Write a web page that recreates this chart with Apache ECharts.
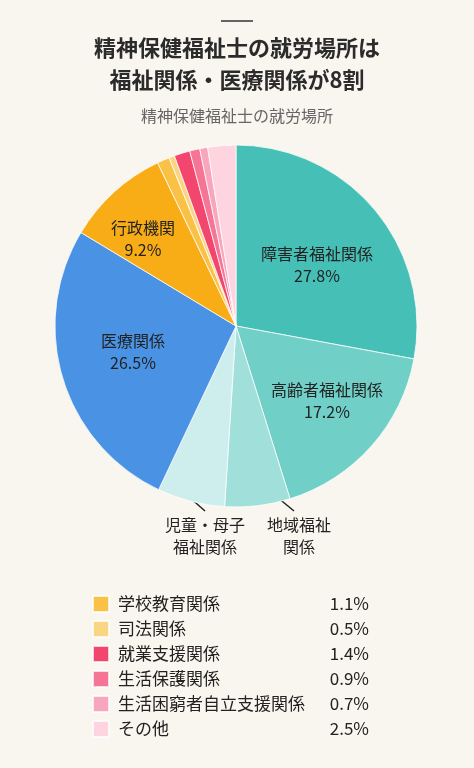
<!DOCTYPE html>
<html>
<head>
<meta charset="utf-8">
<script src="https://cdn.jsdelivr.net/npm/echarts@6/dist/echarts.min.js"></script>
<style>
  html, body { margin: 0; padding: 0; background: #f9f6ef; }
  #main { width: 474px; height: 768px; }
</style>
</head>
<body>
<div id="main"></div>
<script>
// 就労場所の内訳（%）
var categories = ['障害者福祉関係', '高齢者福祉関係', '地域福祉関係', '児童・母子福祉関係', '医療関係', '行政機関',
    '学校教育関係', '司法関係', '就業支援関係', '生活保護関係', '生活困窮者自立支援関係', 'その他'];
var values = [27.8, 17.2, 5.8, 6.0, 26.5, 9.2, 1.1, 0.5, 1.4, 0.9, 0.7, 2.5];
var pctLabels = ['27.8%', '17.2%', '', '', '26.5%', '9.2%', '1.1%', '0.5%', '1.4%', '0.9%', '0.7%', '2.5%'];
var sliceLabels = ['障害者福祉関係', '高齢者福祉関係', '地域福祉\n関係', '児童・母子\n福祉関係', '医療関係', '行政機関'];
var legendNames = categories.slice(6);

var colors = ['#46bfb7', '#70d0c8', '#a0dfda', '#cdeeec', '#4a92e4', '#f8ac16',
    '#f9c247', '#fbd682', '#f2466e', '#f57597', '#f8a6bd', '#fdd4df'];

var cx = 236, cy = 326, r = 181;
var fontCJK = '"Noto Sans CJK JP", "Noto Sans", sans-serif';

// ラベル位置（円の中心からのずれ）
var labelSpots = {
    0: [81, -61],
    1: [91, 75],
    2: [63, 210],
    3: [-31, 210],
    4: [-103, 26],
    5: [-93, -87]
};
var lineSpots = {
    2: [[41, 171], [58, 185]],
    3: [[-48, 170], [-31, 185]]
};

var seriesData = [];
for (var i = 0; i < categories.length; i++) {
    var d = { name: categories[i], value: values[i], itemStyle: { color: colors[i] } };
    if (i === 2 || i === 3) {
        d.label = { show: true, position: 'outside', formatter: sliceLabels[i] };
        d.labelLine = { show: true, length: 8, length2: 8, lineStyle: { color: '#222', width: 1.5 } };
    } else if (i < 6) {
        d.label = { show: true, position: 'inside', formatter: sliceLabels[i] + '\n' + pctLabels[i] };
        d.labelLine = { show: false };
    } else {
        d.label = { show: false };
        d.labelLine = { show: false };
    }
    seriesData.push(d);
}

var chart = echarts.init(document.getElementById('main'));
var option = {
    backgroundColor: '#f9f6ef',
    title: [{
        text: '精神保健福祉士の就労場所は\n福祉関係・医療関係が8割',
        left: 'center',
        top: 27,
        textStyle: { fontFamily: fontCJK, fontSize: 22, fontWeight: 'bold', color: '#2b2b2b', lineHeight: 32 }
    }, {
        text: '精神保健福祉士の就労場所',
        left: 'center',
        top: 103,
        textStyle: { fontFamily: fontCJK, fontSize: 16, fontWeight: 'normal', color: '#666' }
    }],
    graphic: [{
        type: 'line',
        shape: { x1: 221, y1: 21, x2: 253, y2: 21 },
        style: { stroke: '#333', lineWidth: 1.5 }
    }],
    legend: {
        orient: 'vertical',
        left: 92,
        top: 595,
        padding: 0,
        itemWidth: 16,
        itemHeight: 16,
        itemGap: 7,
        icon: 'rect',
        data: legendNames,
        selectedMode: false,
        formatter: function (name) {
            var idx = categories.indexOf(name);
            return '{n|' + name + '}{v|' + pctLabels[idx] + '}';
        },
        textStyle: {
            fontFamily: fontCJK,
            color: '#222',
            rich: {
                n: { fontSize: 17, lineHeight: 16, width: 205, padding: [0, 0, 0, 4], color: '#222' },
                v: { fontSize: 17, lineHeight: 16, width: 46, align: 'right', color: '#222' }
            }
        }
    },
    series: [{
        type: 'pie',
        center: [cx, cy],
        radius: r,
        startAngle: 90,
        clockwise: true,
        animation: false,
        itemStyle: { borderColor: 'rgba(255,255,255,0.75)', borderWidth: 1 },
        label: { fontFamily: fontCJK, fontSize: 16, color: '#222', lineHeight: 22, align: 'center' },
        emphasis: { disabled: true },
        labelLayout: function (params) {
            var s = labelSpots[params.dataIndex];
            if (!s) return {};
            var out = {
                x: cx + s[0],
                y: cy + s[1],
                align: 'center',
                verticalAlign: 'middle'
            };
            var ln = lineSpots[params.dataIndex];
            if (ln) {
                out.labelLinePoints = [
                    [cx + ln[0][0], cy + ln[0][1]],
                    [cx + ln[1][0], cy + ln[1][1]],
                    [cx + ln[1][0], cy + ln[1][1]]
                ];
            }
            return out;
        },
        data: seriesData
    }]
};
chart.setOption(option);
</script>
</body>
</html>
